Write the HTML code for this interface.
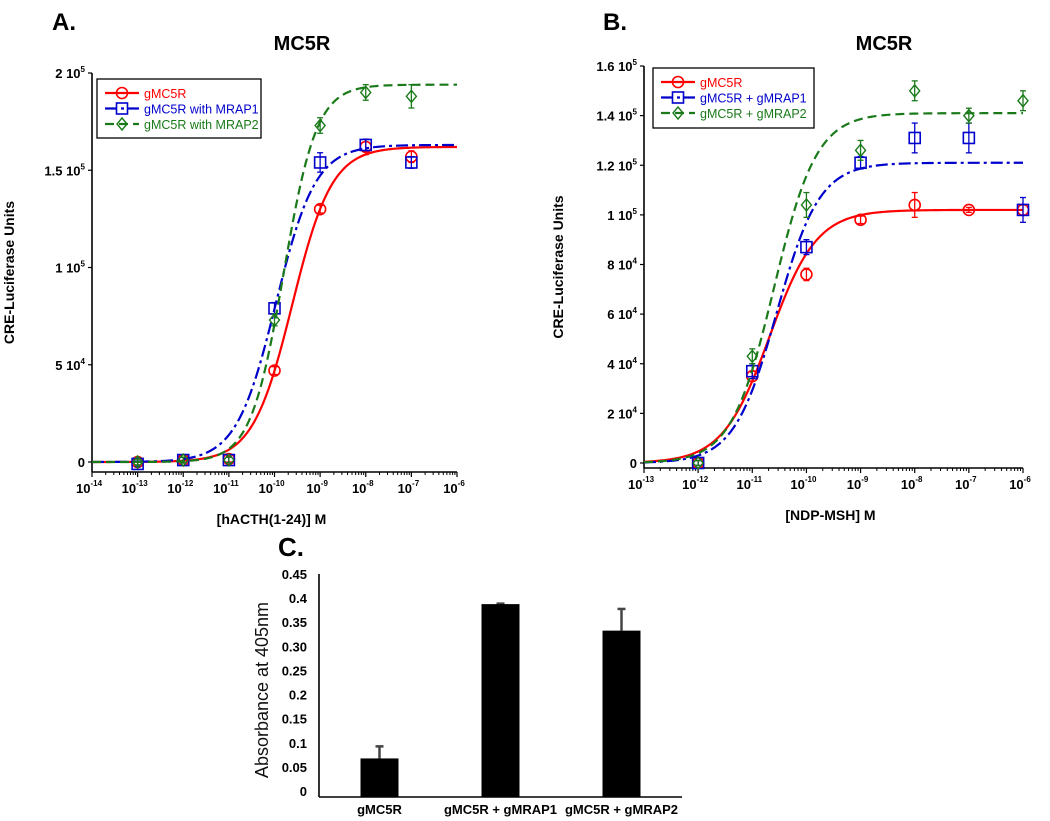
<!DOCTYPE html>
<html><head><meta charset="utf-8">
<style>
html,body{margin:0;padding:0;background:#fff;}
svg{display:block;font-family:"Liberation Sans",Arial,sans-serif;}
</style></head>
<body>
<svg id="fig" width="1050" height="821" viewBox="0 0 1050 821" xmlns="http://www.w3.org/2000/svg">
<text x="52" y="30" font-size="24" font-weight="bold">A.</text>
<text x="302" y="50" font-size="20" font-weight="bold" text-anchor="middle">MC5R</text>
<text x="603" y="30" font-size="24" font-weight="bold">B.</text>
<text x="884" y="50" font-size="20" font-weight="bold" text-anchor="middle">MC5R</text>
<text x="278" y="556" font-size="26" font-weight="bold">C.</text>
</svg>
<script>
// ---- Panel A data ----
const aConc = [-13,-12,-11,-10,-9,-8,-7];
const aRed = [0,1000,1500,47000,130000,162000,157000];
const aRedErr = [1500,1500,1500,2000,2000,4000,3000];
const aBlue = [-1000,1000,1000,79000,154000,163000,154000];
const aBlueErr = [1500,1500,1500,3000,5000,3000,3000];
const aGreen = [0,1000,1000,73000,173000,190000,188000];
const aGreenErr = [1500,1500,1500,3000,4000,4000,6000];
const aFitRed = [0,162000,-9.61,1.0];
const aFitBlue = [0,163000,-9.97,1.0];
const aFitGreen = [0,194000,-9.8,1.2];
const aYTicks = [0,50000,100000,150000,200000];
const aYTickLabels = [["0",""],["5 10","4"],["1 10","5"],["1.5 10","5"],["2 10","5"]];
const aXTicks = [-14,-13,-12,-11,-10,-9,-8,-7,-6];
const aLegend = ["gMC5R","gMC5R with MRAP1","gMC5R with MRAP2"];
// ---- Panel B data ----
const bConc = [-12,-11,-10,-9,-8,-7,-6];
const bRed = [0,35000,76000,98000,104000,102000,102000];
const bRedErr = [1000,2000,2500,1500,5000,1000,2000];
const bBlue = [0,37000,87000,121000,131000,131000,102000];
const bBlueErr = [1000,3000,3000,2500,6000,6000,5000];
const bGreen = [0,43000,104000,126000,150000,140000,146000];
const bGreenErr = [1000,3000,5000,4000,4000,3000,4000];
const bFitRed = [0,102000,-10.68,1.0];
const bFitBlue = [0,121000,-10.55,1.1];
const bFitGreen = [0,141000,-10.6,1.1];
const bYTicks = [0,20000,40000,60000,80000,100000,120000,140000,160000];
const bYTickLabels = [["0",""],["2 10","4"],["4 10","4"],["6 10","4"],["8 10","4"],["1 10","5"],["1.2 10","5"],["1.4 10","5"],["1.6 10","5"]];
const bXTicks = [-13,-12,-11,-10,-9,-8,-7,-6];
const bLegend = ["gMC5R","gMC5R + gMRAP1","gMC5R + gMRAP2"];
// ---- Panel C data ----
const cCats = ["gMC5R","gMC5R + gMRAP1","gMC5R + gMRAP2"];
const cVals = [0.08,0.40,0.345];
const cErr = [0.025,0.001,0.045];
const cTicks = [0,0.05,0.1,0.15,0.2,0.25,0.3,0.35,0.4,0.45];
const cTickLabels = ["0","0.05","0.1","0.15","0.2","0.25","0.30","0.35","0.4","0.45"];

const NS="http://www.w3.org/2000/svg";
const svg=document.getElementById('fig');
function mk(tag,attrs,parent,text){const e=document.createElementNS(NS,tag);for(const k in attrs)e.setAttribute(k,attrs[k]);if(text!==undefined)e.textContent=text;(parent||svg).appendChild(e);return e;}
function hill(p,x){return p[0]+(p[1]-p[0])/(1+Math.pow(10,(p[2]-x)*p[3]));}
const RED="#ff0000",BLUE="#0000cc",GREEN="#1a7a1a";

function marker(g,kind,cx,cy,col){
  let m;
  if(kind==='circle'){m=mk('circle',{cx:cx,cy:cy,r:5.5,fill:'none',stroke:col,'stroke-width':1.6},g);}
  else if(kind==='square'){m=mk('rect',{x:cx-5.5,y:cy-5.5,width:11,height:11,fill:'none',stroke:col,'stroke-width':1.6},g);}
  else {m=mk('polygon',{points:`${cx},${cy-6} ${cx+5},${cy} ${cx},${cy+6} ${cx-5},${cy}`,fill:'none',stroke:col,'stroke-width':1.4},g);}
  return m;
}

function panel(cfg){
  const g=mk('g',{});
  
  
  const xs=v=>cfg.x0+(v-cfg.xmin)/(cfg.xmax-cfg.xmin)*(cfg.x1-cfg.x0);
  const ys=v=>cfg.y0-(v/cfg.ymax)*(cfg.y0-cfg.ytop);
  const ax=mk('line',{x1:cfg.x0,y1:cfg.axisY,x2:cfg.x1,y2:cfg.axisY,stroke:'#000','stroke-width':1.6},g);
  
  
  const ay=mk('line',{x1:cfg.x0,y1:cfg.axisY,x2:cfg.x0,y2:cfg.ytop,stroke:'#000','stroke-width':1.6},g);
  
  
  cfg.yTicks.forEach((t,i)=>{
    const y=ys(t);
    mk('line',{x1:cfg.x0-4,y1:y,x2:cfg.x0,y2:y,stroke:'#000','stroke-width':1.2},g);
    const tx=mk('text',{x:cfg.x0-7,y:y+5,'font-size':13,'font-weight':'bold','text-anchor':'end'},g);
    
    
    const lab=cfg.yLabels[i];
    mk('tspan',{},tx,lab[0]);
    if(lab[1]){mk('tspan',{dy:-6,'font-size':8},tx,lab[1]);}
  });
  cfg.xTicks.forEach((t,i)=>{
    const x=xs(t);
    mk('line',{x1:x,y1:cfg.axisY,x2:x,y2:cfg.axisY+5,stroke:'#000','stroke-width':1.2},g);
    if(i<cfg.xTicks.length-1){for(let k=2;k<10;k++){const xm=xs(t+Math.log10(k));mk('line',{x1:xm,y1:cfg.axisY,x2:xm,y2:cfg.axisY+3,stroke:'#000','stroke-width':1},g);}}
    const tx=mk('text',{x:x-3,y:cfg.axisY+21,'font-size':13,'font-weight':'bold','text-anchor':'middle'},g);
    
    
    mk('tspan',{},tx,'10');
    mk('tspan',{dy:-7,'font-size':8},tx,String(t));
  });
  const yt=mk('text',{x:0,y:0,'font-size':14,'font-weight':'bold','text-anchor':'middle',transform:`translate(${cfg.yTitleX},${(cfg.ytop+cfg.axisY)/2}) rotate(-90)`},g,'CRE-Luciferase Units');
  
  
  const xt=mk('text',{x:(cfg.x0+cfg.x1)/2-3,y:cfg.axisY+52,'font-size':14,'font-weight':'bold','text-anchor':'middle'},g,cfg.xTitle);
  
  
  cfg.series.forEach(s=>{
    let d='';
    for(let i=0;i<=200;i++){const x=cfg.xmin+(cfg.xmax-cfg.xmin)*i/200;d+=(i?'L':'M')+xs(x).toFixed(2)+','+ys(hill(s.fit,x)).toFixed(2);}
    const p=mk('path',{d:d,fill:'none',stroke:s.col,'stroke-width':2.2,'stroke-dasharray':s.dash},g);
    
    
    s.vals.forEach((v,i)=>{
      const cx=xs(cfg.conc[i]),cy=ys(v),e=(cfg.y0-cfg.ytop)*s.err[i]/cfg.ymax;
      mk('line',{x1:cx,y1:cy-e,x2:cx,y2:cy+e,stroke:s.col,'stroke-width':1.3},g);
      mk('line',{x1:cx-3,y1:cy-e,x2:cx+3,y2:cy-e,stroke:s.col,'stroke-width':1.3},g);
      mk('line',{x1:cx-3,y1:cy+e,x2:cx+3,y2:cy+e,stroke:s.col,'stroke-width':1.3},g);
      const m=marker(g,s.mk,cx,cy,s.col);
      
      
    });
  });
  const L=cfg.leg;
  const lg=mk('g',{},g);
  
  
  mk('rect',{x:L.x,y:L.y,width:L.w,height:L.h,fill:'#fff',stroke:'#000','stroke-width':1.3},lg);
  cfg.series.forEach((s,i)=>{
    const yy=L.y+14+i*15.5;
    mk('line',{x1:L.x+8,y1:yy,x2:L.x+42,y2:yy,stroke:s.col,'stroke-width':2.2,'stroke-dasharray':s.dash},lg);
    marker(lg,s.mk,L.x+25,yy,s.col);
    const t=mk('text',{x:L.x+47,y:yy+5,'font-size':12.5,fill:s.col},lg,cfg.legend[i]);
    
    
  });
}

panel({name:'panel-a-chart',x0:92,x1:457,xmin:-14,xmax:-6,y0:462,ytop:73,axisY:472,ymax:200000,
  yTicks:aYTicks,yLabels:aYTickLabels,xTicks:aXTicks,conc:aConc,yTitleX:14,xTitle:'[hACTH(1-24)] M',
  legend:aLegend,leg:{x:97,y:79,w:164,h:59},
  series:[{key:'gmc5r',col:RED,dash:'none',mk:'circle',vals:aRed,err:aRedErr,fit:aFitRed},
          {key:'gmc5r-mrap1',col:BLUE,dash:'12,4,3,4',mk:'square',vals:aBlue,err:aBlueErr,fit:aFitBlue},
          {key:'gmc5r-mrap2',col:GREEN,dash:'9,5',mk:'diamond',vals:aGreen,err:aGreenErr,fit:aFitGreen}]});

panel({name:'panel-b-chart',x0:644,x1:1023,xmin:-13,xmax:-6,y0:463,ytop:66,axisY:468,ymax:160000,
  yTicks:bYTicks,yLabels:bYTickLabels,xTicks:bXTicks,conc:bConc,yTitleX:563,xTitle:'[NDP-MSH] M',
  legend:bLegend,leg:{x:653,y:68,w:161,h:60},
  series:[{key:'gmc5r',col:RED,dash:'none',mk:'circle',vals:bRed,err:bRedErr,fit:bFitRed},
          {key:'gmc5r-gmrap1',col:BLUE,dash:'12,4,3,4',mk:'square',vals:bBlue,err:bBlueErr,fit:bFitBlue},
          {key:'gmc5r-gmrap2',col:GREEN,dash:'9,5',mk:'diamond',vals:bGreen,err:bGreenErr,fit:bFitGreen}]});

(function(){
  const g=mk('g',{});
  
  
  const x0=319,x1=682,y0=797,ymax=0.45,ytop=580;
  const ys=v=>y0-v/ymax*(y0-ytop);
  const band=(x1-x0)/cCats.length;
  const xc=i=>x0+band*(i+0.5);
  const ax=mk('line',{x1:x0,y1:y0,x2:x1,y2:y0,stroke:'#000','stroke-width':1.6},g);
  
  
  const ay=mk('line',{x1:x0,y1:y0,x2:x0,y2:ytop-6,stroke:'#000','stroke-width':1.6},g);
  
  
  cTicks.forEach((t,i)=>{
    const tx=mk('text',{x:x0-12,y:ys(t)-1,'font-size':13,'font-weight':'bold','text-anchor':'end'},g,cTickLabels[i]);
    
    
  });
  cVals.forEach((v,i)=>{
    const cx=xc(i);
    const e=(y0-ytop)*cErr[i]/ymax;
    mk('line',{x1:cx,y1:ys(v),x2:cx,y2:ys(v)-e,stroke:'#444','stroke-width':2.5},g);
    mk('line',{x1:cx-4,y1:ys(v)-e,x2:cx+4,y2:ys(v)-e,stroke:'#444','stroke-width':2.5},g);
    const b=mk('rect',{x:cx-19,y:ys(v),width:38,height:y0-ys(v),fill:'#000'},g);
    
    
    const t=mk('text',{x:cx,y:814,'font-size':13,'font-weight':'bold','text-anchor':'middle'},g,cCats[i]);
    
    
  });
  const yt=mk('text',{x:0,y:0,'font-size':18,'fill':'#111','text-anchor':'middle',transform:'translate(268,690) rotate(-90)'},g,'Absorbance at 405nm');
  
  
})();
</script>
</body></html>
